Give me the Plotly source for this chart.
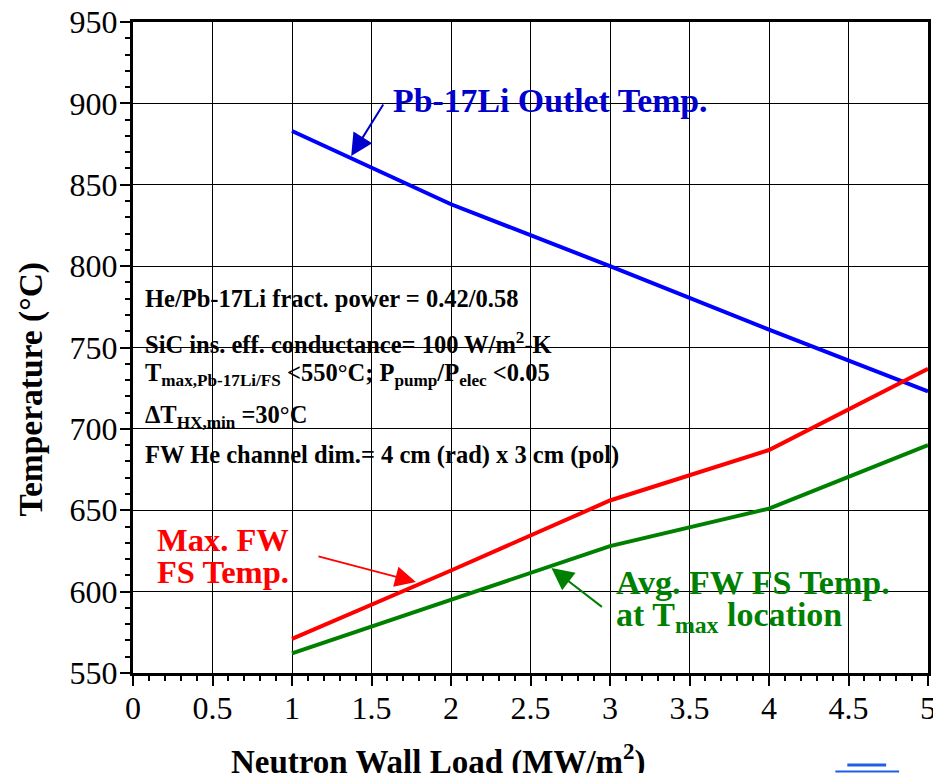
import plotly.graph_objects as go

# ---- data ----
wall_load = [1, 2, 3, 4, 5]
pbli_outlet = [883, 838, 800, 761, 723]
max_fw_fs = [571, 613, 656, 687, 737]
avg_fw_fs = [562, 595, 628, 651, 690]

x_ticks = [0, 0.5, 1, 1.5, 2, 2.5, 3, 3.5, 4, 4.5, 5]
x_ticklabels = ["0", "0.5", "1", "1.5", "2", "2.5", "3", "3.5", "4", "4.5", "5"]
y_ticks = [550, 600, 650, 700, 750, 800, 850, 900, 950]
y_ticklabels = [str(v) for v in y_ticks]

# ---- layout geometry (pixels) ----
W, H = 933, 773
L, R, T, B = 133, 2, 22, 100
PW, PH = W - L - R, H - T - B


def px(xp):
    return (xp - L) / PW


def py(yp):
    return (H - B - yp) / PH


SERIF = "Liberation Serif"
BLUE_TXT = "#0000CC"
RED = "#FF0000"
GREEN = "#008000"

fig = go.Figure()
fig.add_trace(go.Scatter(x=wall_load, y=pbli_outlet, mode="lines",
                         line=dict(color="#0000FF", width=4), showlegend=False))
fig.add_trace(go.Scatter(x=wall_load, y=max_fw_fs, mode="lines",
                         line=dict(color=RED, width=4), showlegend=False))
fig.add_trace(go.Scatter(x=wall_load, y=avg_fw_fs, mode="lines",
                         line=dict(color=GREEN, width=4), showlegend=False))

shapes = []


def white_box(x0, y0, x1, y1):
    shapes.append(dict(type="rect", xref="paper", yref="paper",
                       x0=px(x0), x1=px(x1), y0=py(y1), y1=py(y0),
                       fillcolor="white", line=dict(width=0), layer="between"))


white_box(137, 284, 656, 477)   # parameter text block
white_box(383, 85, 715, 157)    # Pb-17Li label
white_box(148, 510, 318, 608)   # Max FW label
white_box(610, 567, 913, 653)   # Avg FW label

# small blue artefact at bottom right
shapes.append(dict(type="line", xref="paper", yref="paper",
                   x0=px(850), x1=px(889), y0=py(765), y1=py(765),
                   line=dict(color="#1f5fe8", width=3)))
shapes.append(dict(type="line", xref="paper", yref="paper",
                   x0=px(838), x1=px(902), y0=py(771.5), y1=py(771.5),
                   line=dict(color="#1f5fe8", width=2)))

ann = []


def text(xp, yp, s, size, color="black", xanchor="left"):
    ann.append(dict(xref="paper", yref="paper", x=px(xp), y=py(yp), text=s,
                    showarrow=False, xanchor=xanchor, yanchor="middle", align="left",
                    font=dict(family=SERIF, size=size, color=color)))


# parameter block
text(143, 298, "<b>He/Pb-17Li fract. power = 0.42/0.58</b>", 24.5)
text(143, 343, "<b>SiC ins. eff. conductance= 100 W/m<sup>2</sup>-K</b>", 24.5)
text(143, 374, "<b>T<sub>max,Pb-17Li/FS</sub> <550°C; P<sub>pump</sub>/P<sub>elec</sub> <0.05</b>", 24.5)
text(143, 416, "<b>ΔT<sub>HX,min</sub> =30°C</b>", 24.5)
text(143, 455, "<b>FW He channel dim.= 4 cm (rad) x 3 cm (pol)</b>", 24.5)

# curve labels
text(392, 101, "<b>Pb-17Li Outlet Temp.</b>", 33.8, BLUE_TXT)
text(155, 540, "<b>Max. FW</b>", 32.5, RED)
text(155, 572, "<b>FS Temp.</b>", 32.5, RED)
text(616, 582, "<b>Avg. FW FS Temp.</b>", 34, GREEN)
text(616, 617, "<b>at T<sub>max</sub> location</b>", 34, GREEN)

# axis titles
text(229, 759, "<b>Neutron Wall Load (MW/m<sup>2</sup>)</b>", 33)
ann.append(dict(xref="paper", yref="paper", x=px(31), y=py(389),
                text="<b>Temperature (°C)</b>", textangle=-90, showarrow=False,
                xanchor="center", yanchor="middle",
                font=dict(family=SERIF, size=33.5, color="black")))

# last x tick label, which the reference shows clipped by the right edge
ann.append(dict(xref="x", yref="paper", x=x_ticks[-1], y=py(708),
                text=x_ticklabels[-1], showarrow=False,
                xanchor="center", yanchor="middle",
                font=dict(family=SERIF, size=32, color="black")))


def arrow(tip_x, tip_y, tail_x, tail_y, color, width, size):
    ann.append(dict(xref="paper", yref="paper", x=px(tip_x), y=py(tip_y),
                    ax=tail_x - tip_x, ay=tail_y - tip_y, axref="pixel", ayref="pixel",
                    text="", showarrow=True, arrowhead=2, arrowsize=size,
                    arrowwidth=width, arrowcolor=color))


arrow(352, 156, 385, 103, BLUE_TXT, 2, 2.2)
arrow(417, 582, 318, 556, RED, 1.6, 2.6)
arrow(553, 568, 605, 608, GREEN, 2, 2.2)

axis_common = dict(showline=True, linecolor="black", linewidth=3, mirror=True,
                   showgrid=True, gridcolor="black", gridwidth=1,
                   ticks="outside", ticklen=10, tickwidth=1.5, tickcolor="black",
                   tickfont=dict(family=SERIF, size=32, color="black"),
                   zeroline=False)

fig.update_layout(
    width=W, height=H,
    margin=dict(l=L, r=R, t=T, b=B),
    paper_bgcolor="white", plot_bgcolor="white",
    font=dict(family=SERIF),
    xaxis=dict(range=[0, 5], tickvals=x_ticks, ticktext=x_ticklabels,
               ticklabelstandoff=-5,
               minor=dict(ticks="outside", ticklen=5, tickwidth=1.5, tickcolor="black",
                          dtick=0.1, showgrid=False),
               **axis_common),
    yaxis=dict(range=[550, 950], tickvals=y_ticks, ticktext=y_ticklabels,
               ticklabelstandoff=-4,
               minor=dict(ticks="outside", ticklen=5, tickwidth=1.5, tickcolor="black",
                          dtick=10, showgrid=False),
               **axis_common),
    shapes=shapes,
    annotations=ann,
    showlegend=False,
)

fig.write_html("out.html")
